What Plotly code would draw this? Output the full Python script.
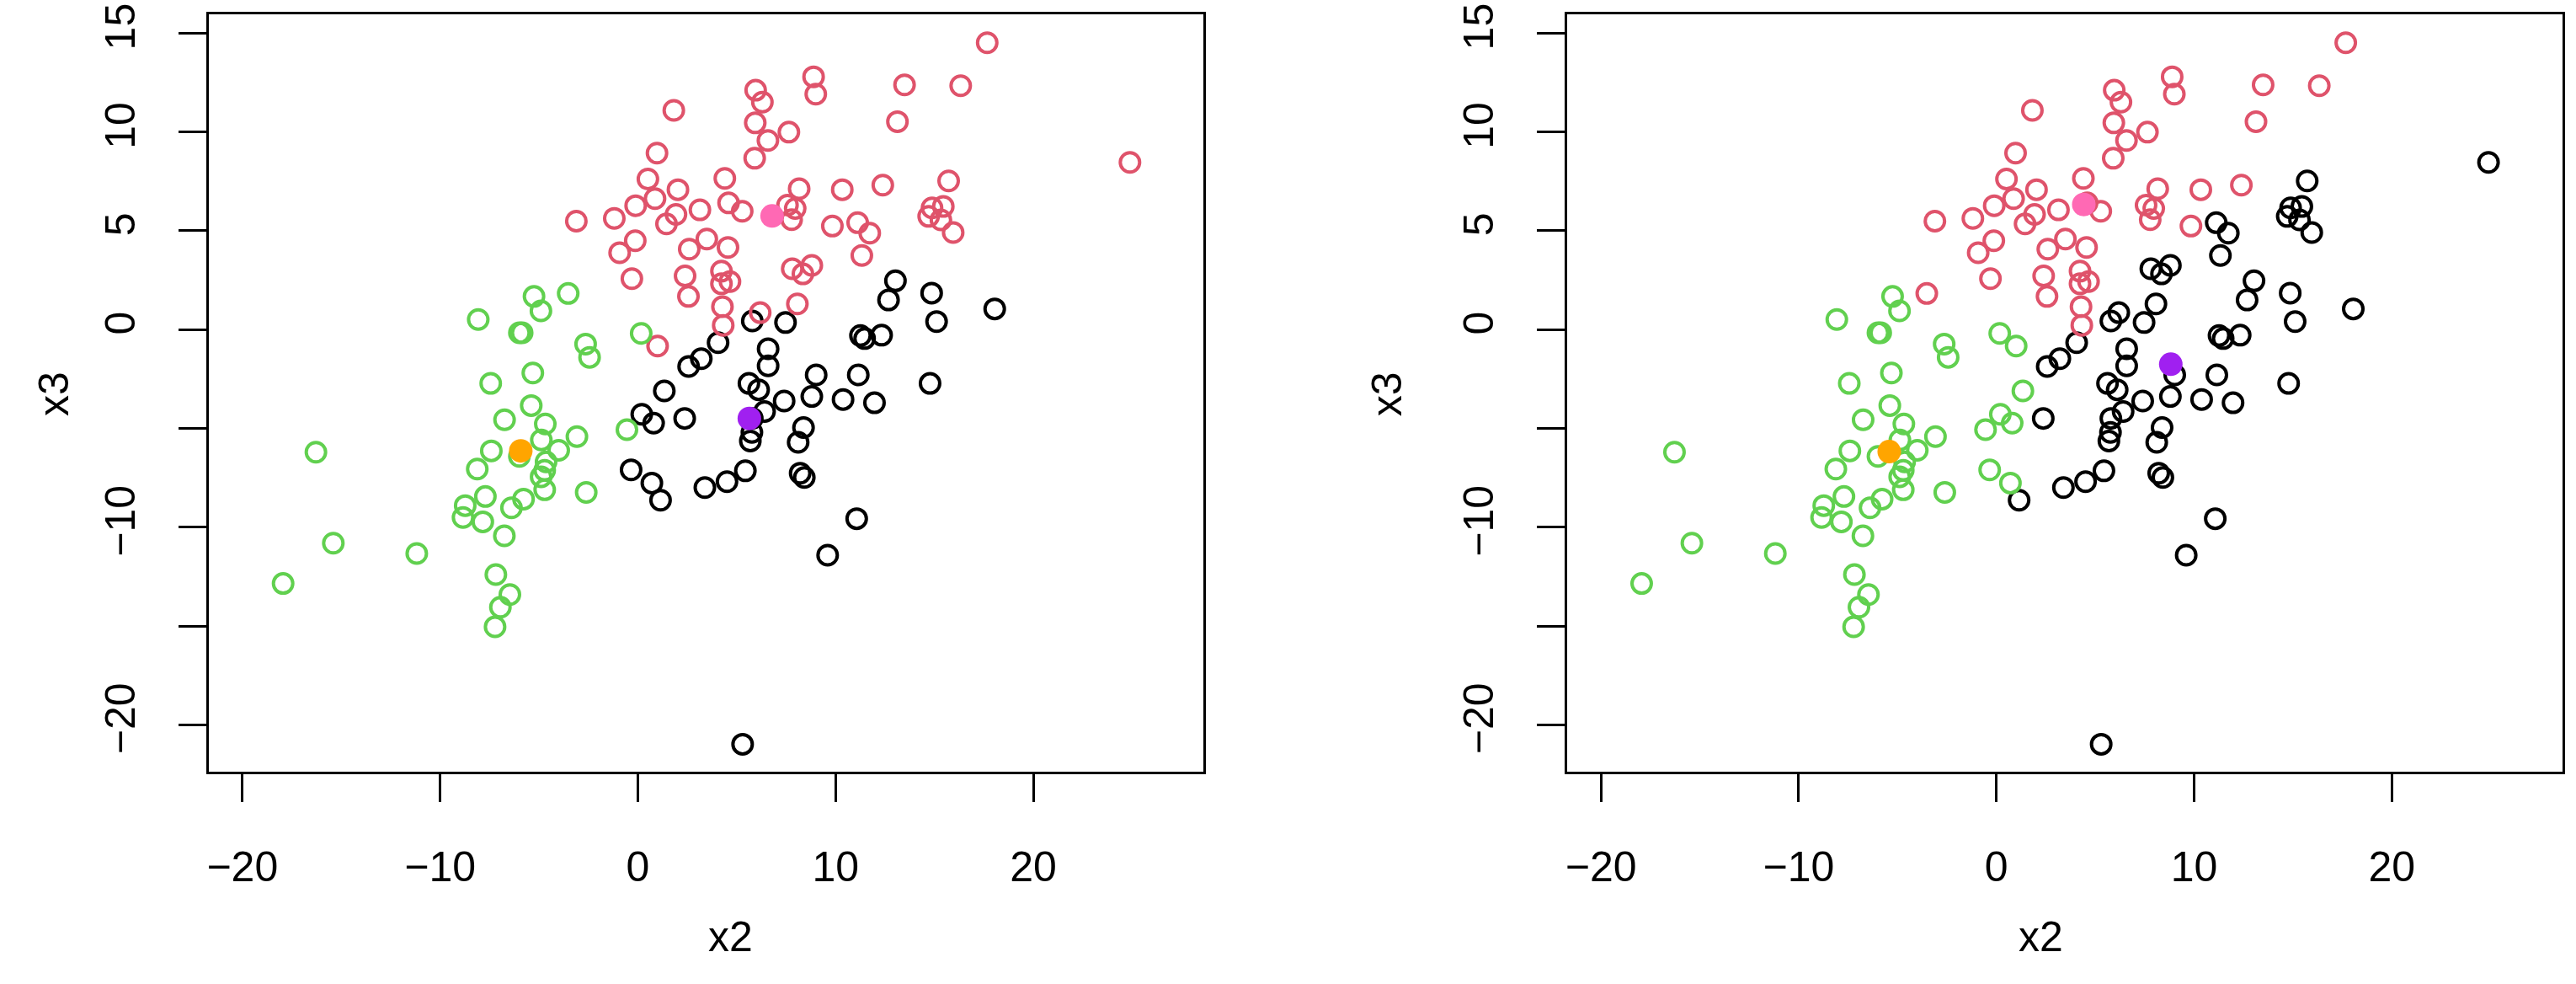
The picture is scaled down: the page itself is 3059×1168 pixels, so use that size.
import numpy as np
import plotly.graph_objects as go

x2 = [17.67, 13.49, 16.33, 13.13, 24.89, 12.39, 15.72, 14.88, 15.45, 14.71, 15.33, 15.95, 11.12, 11.73, 11.33,
      8.89, 9.00, 5.96, 6.30, 1.82, 5.94, 7.64, 6.58, 5.91, 0.97, 0.51, 4.40, 8.16, 10.34, 2.03, 0.87, -0.11,
      4.59, 5.28, 3.14, 1.93, 1.45, -1.19, -3.11, 7.57, 7.96, 7.78, 9.84, -0.13, -0.92, 2.60, 3.49, 4.56,
      -0.30, 2.39, 4.23, 4.66, 4.23, 2.56, 7.81, 8.35, 8.80, 8.07, 4.28, 6.19, 4.32, 1.00,
      -5.25, -4.90, -8.07, -5.99, -5.85, -5.31, -7.44, -5.39, -6.74, -4.68, -4.88, -4.00, -3.08, -0.55,
      -7.41, -5.99, -4.64, -4.71, -4.89, -4.71, -2.61, -8.12, -7.71, -8.73, -8.84, -7.84, -6.39, -5.78,
      -6.75, -16.28, -15.40, -11.18, -17.94, -7.18, -6.47, -6.95, -7.22, -3.52, 0.17, -2.64, -2.44,
      5.79, 7.47, 4.06, 3.21, 2.57, 6.59, 6.59, 9.02, 5.62, 6.11, 1.34, 7.40, 8.80, 10.38, 11.97, 11.26,
      11.47, 12.33, 11.15, 13.03, 12.68, 14.86, 18.05, 15.11, 14.78, 0.20, 0.80, 2.37, -0.34, 0.71, 1.15,
      3.39, 4.51, 5.44, 5.79, 5.77, 5.69, 6.41, 8.38, 8.11, 8.21, 8.42, 11.07, 9.60, 5.30]
x3 = [14.50, 12.37, 12.33, 10.51, 8.45, 7.30, 7.51, 6.15, 6.22, 5.72, 5.54, 4.90, 5.40, 4.87, 3.74,
      12.78, 11.90, 12.10, 11.50, 11.08, 10.45, 9.98, 9.56, 8.66, 8.92, 7.61, 7.64, 7.12, 7.07, 7.07, 6.62, 6.26,
      6.40, 5.98, 6.05, 5.82, 5.34, 5.62, 5.48, 6.29, 6.12, 5.55, 5.23, 4.49, 3.88, 4.06, 4.57, 4.15,
      2.57, 2.71, 2.95, 2.42, 2.31, 1.67, 3.07, 2.81, 3.24, 1.29, 1.15, 0.85, 0.21, -0.84,
      1.67, 0.94, 0.50, -0.17, -0.17, -2.20, -2.73, -3.85, -4.57, -4.78, -5.59, -6.11, -5.42, -5.07,
      -6.14, -6.42, -6.70, -7.13, -7.45, -8.11, -8.24, -7.06, -8.45, -8.91, -9.51, -9.73, -9.02, -8.58,
      -10.44, -6.21, -10.81, -11.33, -12.85, -12.40, -13.41, -14.05, -15.04, 1.82, -0.20, -0.74, -1.41,
      0.43, 0.35, -0.67, -1.48, -1.87, -0.98, -1.84, -2.30, -2.73, -3.05, -3.11, -3.62, -3.39, -3.54, -3.71, -0.31,
      -0.46, -0.29, -2.30, 2.46, 1.49, 1.84, 1.04, 0.40, -2.73, -4.29, -4.74, -4.50, -7.10, -7.77, -8.64,
      -8.00, -7.70, -7.15, -4.50, -5.21, -5.64, -4.15, -4.96, -5.71, -7.27, -7.49, -9.57, -11.42, -20.98]

# cluster membership (1 = black, 2 = red, 3 = green) for the two runs
cl_left = [2] * 62 + [3] * 41 + [1] * 45
cl_right = ([2] * 4 + [1] + [2] + [1] * 9 + [2] * 39 + [1] * 4 + [2] + [1] + [2] + [3]
            + [3] * 37 + [2] + [3] * 3
            + [1] * 10 + [3] + [1] * 14 + [3] * 2 + [1] + [3] * 2 + [1] * 15)

# cluster centres (x2, x3), same colour order
cent_left_x2 = [5.64, 6.79, -5.92]
cent_left_x3 = [-4.50, 5.74, -6.14]
cent_right_x2 = [8.82, 4.42, -5.42]
cent_right_x3 = [-1.76, 6.32, -6.18]

point_cols = {1: "#000000", 2: "#DF536B", 3: "#61D04F"}
cent_cols = ["#A020F0", "#FF69B4", "#FFA500"]

W, H = 3059, 1168
FONT = "Liberation Sans, Arial, sans-serif"

fig = go.Figure()
x2 = np.array(x2)
x3 = np.array(x3)

panels = [
    ("x", "y", cl_left, cent_left_x2, cent_left_x3),
    ("x2", "y2", cl_right, cent_right_x2, cent_right_x3),
]
for xa, ya, labels, cx, cy in panels:
    labels = np.array(labels)
    for k in (1, 2, 3):
        m = labels == k
        fig.add_trace(go.Scatter(
            x=x2[m], y=x3[m], xaxis=xa, yaxis=ya, mode="markers",
            marker=dict(symbol="circle-open", size=23, color=point_cols[k],
                        line=dict(width=4, color=point_cols[k])),
            showlegend=False, hoverinfo="skip"))
    fig.add_trace(go.Scatter(
        x=cx, y=cy, xaxis=xa, yaxis=ya, mode="markers",
        marker=dict(symbol="circle", size=28, color=cent_cols, line=dict(width=0)),
        showlegend=False, hoverinfo="skip"))

xrange = [-21.70, 28.62]
yrange = [-22.37, 15.94]
ydom = [(H - 916) / H, (H - 17) / H]
xdoms = [[247.9 / W, 1429.4 / W], [1861.2 / W, 3042.7 / W]]

common = dict(showgrid=False, zeroline=False, showline=True, mirror=True,
              linecolor="black", linewidth=3, ticks="outside", ticklen=33,
              tickwidth=3, tickcolor="black", automargin=False,
              tickfont=dict(family=FONT, size=50, color="black"))

yticks = [-20, -15, -10, -5, 0, 5, 10, 15]
ylabels = ["\u221220", "", "\u221210", "", "0", "5", "10", "15"]

for i, dom in enumerate(xdoms):
    sfx = "" if i == 0 else "2"
    fig.update_layout(**{
        "xaxis" + sfx: dict(domain=dom, range=xrange, anchor="y" + sfx,
                            tickvals=[-20, -10, 0, 10, 20], ticklabelstandoff=34, **common),
        "yaxis" + sfx: dict(domain=ydom, range=yrange, anchor="x" + sfx,
                            tickvals=yticks, ticktext=ylabels, tickangle=-90,
                            ticklabelstandoff=32, **common),
    })
    xc = (dom[0] + dom[1]) / 2
    fig.add_annotation(text="x2", x=xc, y=(H - 1142) / H, xref="paper", yref="paper",
                       showarrow=False, font=dict(family=FONT, size=50, color="black"))
    fig.add_annotation(text="x3", x=(34 + i * 1613.3) / W, y=(H - 468) / H,
                       xref="paper", yref="paper", textangle=-90, showarrow=False,
                       font=dict(family=FONT, size=50, color="black"))

fig.update_layout(width=W, height=H, margin=dict(l=0, r=0, t=0, b=0),
                  paper_bgcolor="white", plot_bgcolor="white")

fig.write_html("out.html", config={"displayModeBar": False},
               post_script="document.body.style.margin='0';")
